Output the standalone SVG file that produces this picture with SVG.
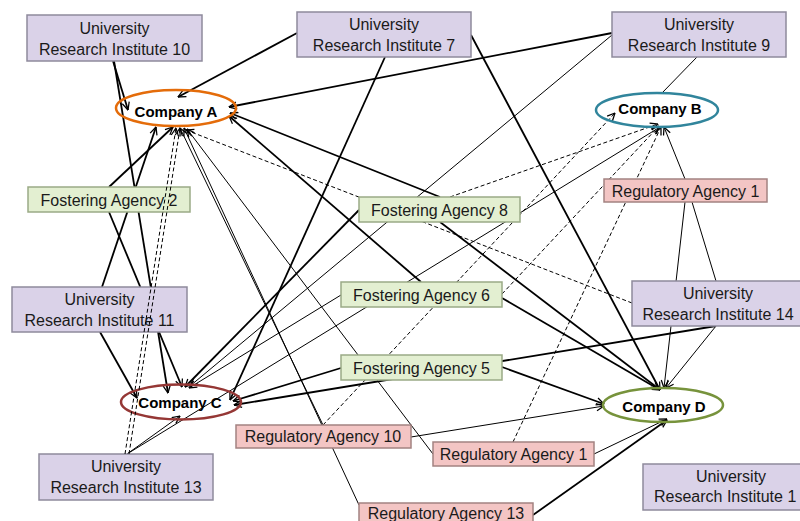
<svg xmlns="http://www.w3.org/2000/svg" width="800" height="521" viewBox="0 0 800 521">
<defs>
<marker id="ah" viewBox="0 0 10 10" refX="9.5" refY="5" markerWidth="9" markerHeight="9" markerUnits="userSpaceOnUse" orient="auto">
<path d="M1,1 L9.5,5 L1,9" fill="none" stroke="#000" stroke-width="1.4"/>
</marker>
<style>
.thk{stroke:#000;stroke-width:1.8;fill:none}
.thn{stroke:#000;stroke-width:1;fill:none}
.dsh{stroke:#000;stroke-width:1;fill:none;stroke-dasharray:4 2.5}
.arr{marker-end:url(#ah)}
.uri{fill:#DAD2E8;stroke:#8E8A9C;stroke-width:1.5}
.fa{fill:#E3EFD1;stroke:#9AAA86;stroke-width:1.5}
.ra{fill:#F3C5C4;stroke:#A38281;stroke-width:1.5}
.co{fill:none;stroke-width:2.5}
text{font-family:"Liberation Sans",Arial,sans-serif;font-size:16px;fill:#1a1a1a;text-anchor:middle}
.cot{font-weight:bold;font-size:15px;fill:#000}
</style>
</defs>
<rect width="800" height="521" fill="#fff"/>
<g id="connectors">
<path class="thk arr" d="M113,61 L128,110"/>
<path class="thk arr" d="M297,33 L178,97"/>
<path class="thk arr" d="M612,33 L229,107"/>
<path class="thk arr" d="M102,287 L156,127"/>
<path class="thk arr" d="M109,187 L173,127"/>
<path class="thk arr" d="M114,61 L168,393"/>
<path class="thk arr" d="M109,212 L182,387"/>
<path class="thk arr" d="M100,332 L137,398"/>
<path class="thk arr" d="M359,210 L185,387"/>
<path class="thk arr" d="M385,57 L230,400"/>
<path class="thk arr" d="M341,368 L233,401"/>
<path class="thk arr" d="M716,326 L234,405"/>
<path class="thk arr" d="M471,35 L660,390"/>
<path class="thk arr" d="M440,222 L659,389"/>
<path class="thk arr" d="M502,298 L660,390"/>
<path class="thk arr" d="M502,367 L604,404"/>
<path class="thk arr" d="M533,515 L667,420"/>
<path class="thk arr" d="M440,197 L230,113"/>
<path class="thk arr" d="M421,282 L229,116"/>
<path class="thn arr" d="M612,35 L190,386"/>
<path class="thn arr" d="M341,295 L189,388"/>
<path class="thn arr" d="M127,454 L180,416"/>
<path class="thn arr" d="M127,454 L660,127"/>
<path class="thn arr" d="M685,179 L664,127"/>
<path class="thn arr" d="M685,202 L664,388"/>
<path class="thn" d="M692,202 L716,281"/>
<path class="thn arr" d="M716,326 L666,388"/>
<path class="thn" d="M697,57 L662,93"/>
<path class="thn arr" d="M411,437 L604,406"/>
<path class="thn arr" d="M594,454 L667,419"/>
<path class="thn arr" d="M323,425 L180,128"/>
<path class="thn arr" d="M359,505 L184,128"/>
<path class="thn arr" d="M433,454 L187,129"/>
<path class="dsh arr" d="M632,303 L186,130"/>
<path class="dsh arr" d="M450,197 L658,124"/>
<path class="dsh arr" d="M323,425 L615,113"/>
<path class="dsh arr" d="M502,294 L659,126"/>
<path class="dsh arr" d="M513,442 L661,127"/>
</g>
<g id="uri10"><rect class="uri" x="27" y="15" width="175" height="46"/><text x="114.5" y="34">University</text><text x="114.5" y="55">Research Institute 10</text></g>
<g id="uri7"><rect class="uri" x="297" y="12" width="174" height="45"/><text x="384" y="30">University</text><text x="384" y="51">Research Institute 7</text></g>
<g id="uri9"><rect class="uri" x="612" y="12" width="174" height="45"/><text x="699" y="30">University</text><text x="699" y="51">Research Institute 9</text></g>
<g id="fa2"><rect class="fa" x="28" y="187" width="162" height="25"/><text x="109" y="206">Fostering Agency 2</text></g>
<g id="fa8"><rect class="fa" x="359" y="197" width="161" height="25"/><text x="439.5" y="216">Fostering Agency 8</text></g>
<g id="fa6"><rect class="fa" x="341" y="282" width="161" height="25"/><text x="421.5" y="301">Fostering Agency 6</text></g>
<g id="fa5"><rect class="fa" x="341" y="355" width="161" height="25"/><text x="421.5" y="374">Fostering Agency 5</text></g>
<g id="ra1a"><rect class="ra" x="604" y="179" width="163" height="23"/><text x="685.5" y="197">Regulatory Agency 1</text></g>
<g id="uri11"><rect class="uri" x="12" y="287" width="175" height="45"/><text x="99.5" y="305">University</text><text x="99.5" y="326">Research Institute 11</text></g>
<g id="uri14"><rect class="uri" x="632" y="281" width="172" height="45"/><text x="718" y="299">University</text><text x="718" y="320">Research Institute 14</text></g>
<g id="uri13"><rect class="uri" x="39" y="454" width="174" height="46"/><text x="126" y="472">University</text><text x="126" y="493">Research Institute 13</text></g>
<g id="ra10"><rect class="ra" x="236" y="425" width="175" height="23"/><text x="323" y="442">Regulatory Agency 10</text></g>
<g id="ra1b"><rect class="ra" x="433" y="442" width="161" height="24"/><text x="513.5" y="460">Regulatory Agency 1</text></g>
<g id="ra13"><rect class="ra" x="359" y="503" width="174" height="25"/><text x="446" y="519">Regulatory Agency 13</text></g>
<g id="uri1"><rect class="uri" x="643" y="464" width="175" height="46"/><text x="731" y="482">University</text><text x="654" y="502" style="text-anchor:start">Research Institute 1</text></g>
<g id="coA"><ellipse class="co" cx="176" cy="108" rx="60" ry="18" stroke="#E46C0A"/><text class="cot" x="176" y="117">Company A</text></g>
<g id="coB"><ellipse class="co" cx="657" cy="110" rx="61" ry="17" stroke="#31859C"/><text class="cot" x="660" y="114">Company B</text></g>
<g id="coC"><ellipse class="co" cx="181" cy="402" rx="60" ry="17.5" stroke="#953735"/><text class="cot" x="180" y="408">Company C</text></g>
<g id="coD"><ellipse class="co" cx="663" cy="405" rx="60" ry="17" stroke="#77933C"/><text class="cot" x="664" y="412">Company D</text></g>
<g id="connectors-top">
<path class="dsh arr" d="M125,454 L176,128"/>
<path class="dsh arr" d="M129,454 L180,128"/>
</g>
</svg>
